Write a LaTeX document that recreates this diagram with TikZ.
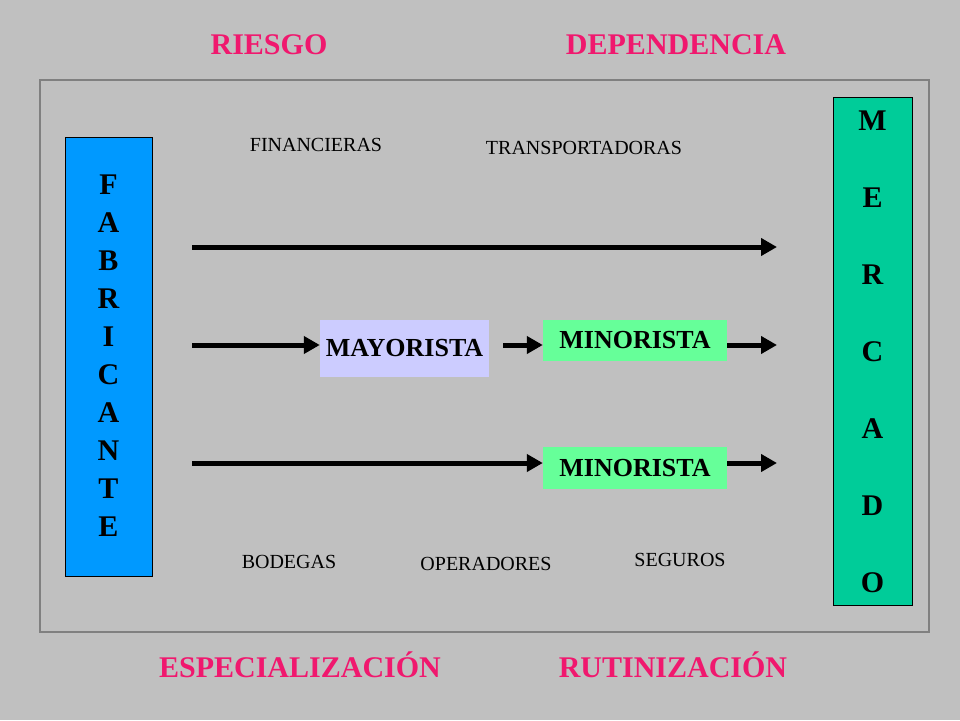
\documentclass[tikz,border=0pt]{standalone}
\usepackage{fontspec}
\setmainfont{Liberation Serif}
\usetikzlibrary{arrows.meta}
\definecolor{bgray}{HTML}{C0C0C0}
\definecolor{fgray}{HTML}{808080}
\definecolor{titlepink}{HTML}{F0186E}
\definecolor{fabblue}{HTML}{0099FF}
\definecolor{mercgreen}{HTML}{00CC99}
\definecolor{mayblue}{HTML}{CCCCFF}
\definecolor{mingreen}{HTML}{66FF99}

\begin{document}
\begin{tikzpicture}[x=1pt,y=-1pt,
  title/.style={text=titlepink, font=\fontsize{30}{32}\selectfont\bfseries},
  small/.style={font=\fontsize{20}{22}\selectfont},
  flow/.style={line width=5pt, -{Triangle[length=16pt,width=17pt]}},
  channel/.style={font=\fontsize{26}{28}\selectfont\bfseries, inner sep=0pt}]

% background and frame
\fill[bgray] (0,0) rectangle (960,720);
\draw[fgray, line width=2.5pt] (40,80) rectangle (929,632);

% titles
\node[title] (riesgo) at (269,45) {RIESGO};
\node[title] (dependencia) at (676,45) {DEPENDENCIA};
\node[title] (especial) at (300,665) {ESPECIALIZACIÓN};
\node[title] (rutina) at (673,665) {RUTINIZACIÓN};

% end boxes
\fill[fabblue, draw=black] (65,137) rectangle (152,576);
\node[channel, font=\fontsize{30}{32}\selectfont\bfseries, align=center] (fabricante) at (108.5,356)
  {F\\[6pt]A\\[6pt]B\\[6pt]R\\[6pt]I\\[6pt]C\\[6pt]A\\[6pt]N\\[6pt]T\\[6pt]E};
\fill[mercgreen, draw=black] (833,97) rectangle (912,605);
\node[channel, font=\fontsize{30}{32}\selectfont\bfseries, align=center] (mercado) at (872.5,352)
  {M\\[45pt]E\\[45pt]R\\[45pt]C\\[45pt]A\\[45pt]D\\[45pt]O};

% intermediaries
\node[channel, fill=mayblue, minimum width=169pt, minimum height=57pt] (mayorista) at (404.5,348.5) {\raisebox{-3pt}{MAYORISTA}};
\node[channel, fill=mingreen, minimum width=184pt, minimum height=41pt] (minorista1) at (635,340.5) {MINORISTA};
\node[channel, fill=mingreen, minimum width=184pt, minimum height=42pt] (minorista2) at (635,468) {MINORISTA};

% services
\node[small] (financieras) at (316,145) {FINANCIERAS};
\node[small] (transport) at (584,148) {TRANSPORTADORAS};
\node[small] (bodegas) at (289,562) {BODEGAS};
\node[small] (operadores) at (486,564) {OPERADORES};
\node[small] (seguros) at (680,560) {SEGUROS};

% flows
\coordinate (s1) at (192,247); \coordinate (e1) at (777,247);
\coordinate (s2) at (192,345); \coordinate (e2) at (777,345);
\coordinate (s3) at (192,463); \coordinate (e3) at (777,463);
\draw[flow] (s1) -- (e1);
\draw[flow] (s2) -- (mayorista.west |- s2);
\draw[flow] (503,345) -- (minorista1.west |- s2);
\draw[flow] (minorista1.east |- s2) -- (e2);
\draw[flow] (s3) -- (minorista2.west |- s3);
\draw[flow] (minorista2.east |- s3) -- (e3);
\end{tikzpicture}
\end{document}
